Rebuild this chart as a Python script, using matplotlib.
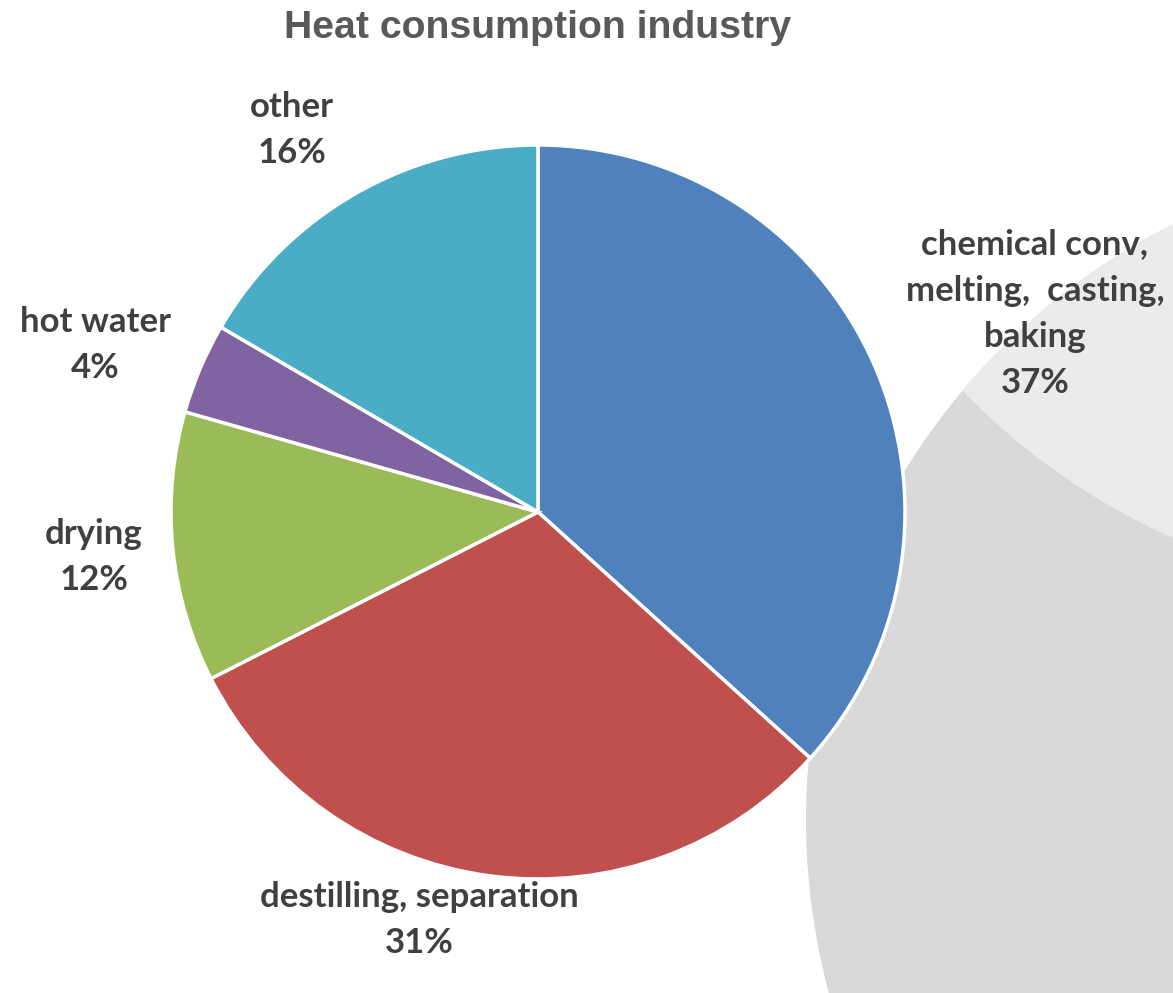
import matplotlib
matplotlib.use("Agg")
import matplotlib.pyplot as plt
from matplotlib.patches import Circle

# data: slice sizes, labels as printed on it
labels = ["chemical conv,\nmelting,  casting,\nbaking", "destilling, separation",
          "drying", "hot water", "other"]
values = [36.7, 30.8, 11.9, 4.0, 16.6]
pct_labels = ["37%", "31%", "12%", "4%", "16%"]
colors = ["#4F81BD", "#C0504D", "#9BBB59", "#8064A2", "#4BACC6"]

# label anchor points (pie axes units, radius = 1)
label_pos = [(1.354, 0.540), (-0.324, -1.112), (-1.210, -0.123),
             (-1.207, 0.455), (-0.670, 1.041)]

W, H = 1173, 993
fig = plt.figure(figsize=(W / 100, H / 100), dpi=100)

# decorative background circles
bg = fig.add_axes([0, 0, 1, 1])
bg.set_xlim(0, W)
bg.set_ylim(H, 0)
bg.axis("off")
dark = Circle((1473, 820), 667, facecolor="#D9D9D9", edgecolor="none")
bg.add_patch(dark)
light = Circle((1443, -72), 667, facecolor="#EBEBEB", edgecolor="none")
bg.add_patch(light)
light.set_clip_path(dark)

# pie
cx, cy, r = 538, 512, 367
ax = fig.add_axes([(cx - r) / W, (H - cy - r) / H, 2 * r / W, 2 * r / H])
ax.patch.set_alpha(0)
ax.pie(values, colors=colors, startangle=90, counterclock=False, radius=1,
       wedgeprops=dict(edgecolor="white", linewidth=2.5))
ax.set_xlim(-1, 1)
ax.set_ylim(-1, 1)
ax.axis("off")

lab_font = dict(family=["Lato", "DejaVu Sans"], weight="bold", fontsize=25,
                color="#404040", ha="center", va="center", linespacing=1.55)
for lab, pct, (x, y) in zip(labels, pct_labels, label_pos):
    ax.text(x, y, f"{lab}\n{pct}", **lab_font)

fig.text(538 / W, 1 - 28 / H, "Heat consumption industry",
         family=["Liberation Sans", "DejaVu Sans"], weight="bold",
         fontsize=28.3, color="#595959", ha="center", va="center")

fig.savefig("out.png", dpi=100)
